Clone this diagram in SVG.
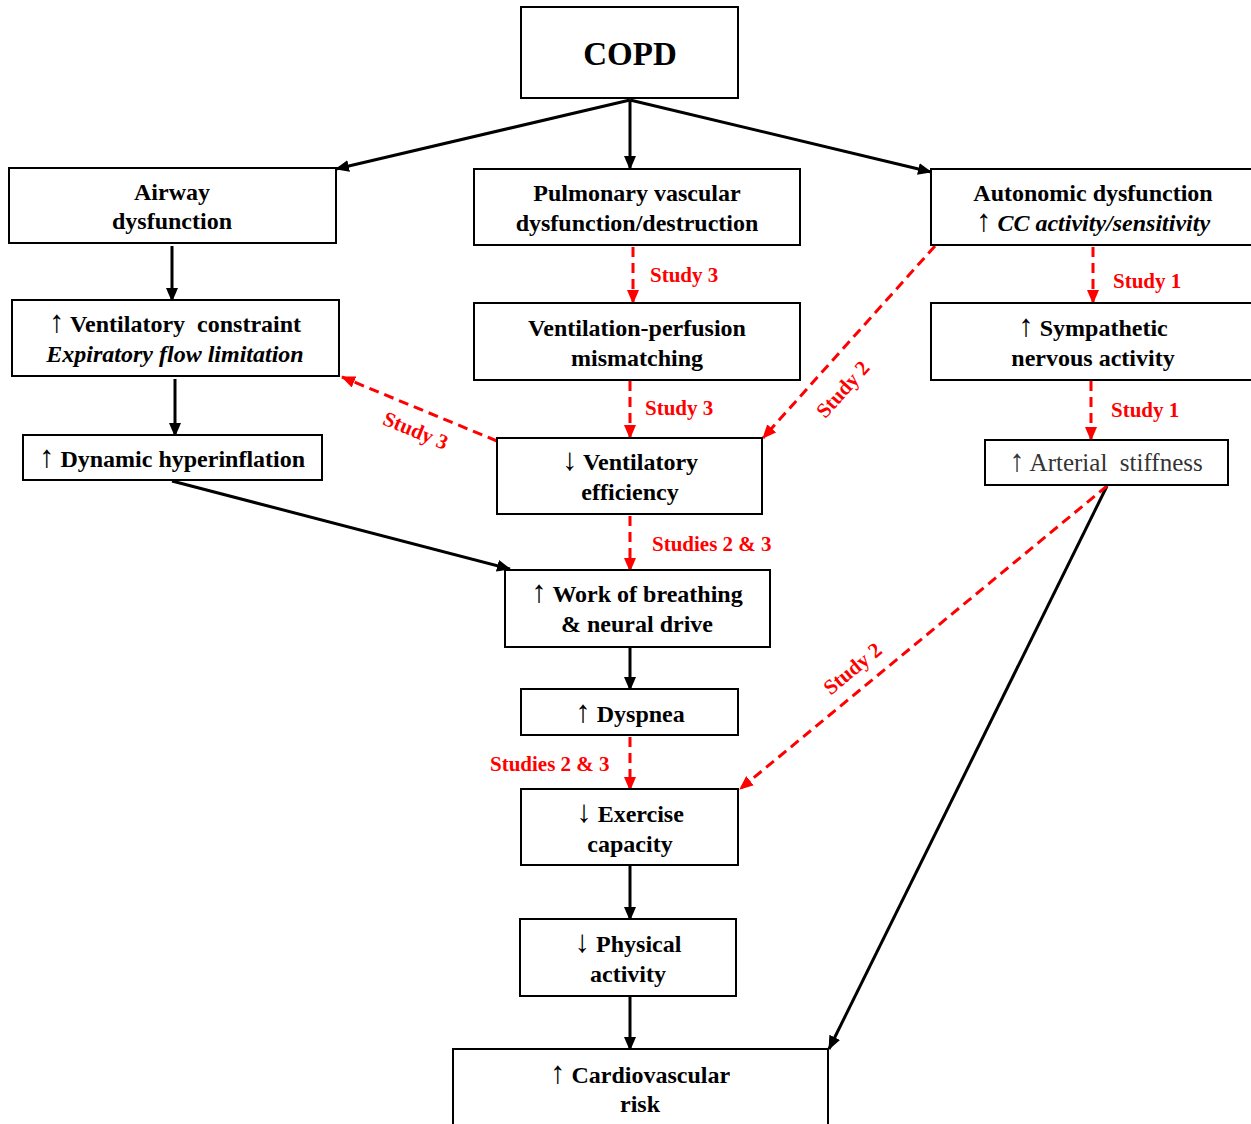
<svg xmlns="http://www.w3.org/2000/svg" width="1251" height="1124" viewBox="0 0 1251 1124">
<defs>
<style>
.box{fill:#fff;stroke:#000;stroke-width:2}
.t{font-family:"Liberation Serif","Times New Roman",serif;font-weight:bold;font-size:24px;text-anchor:middle;fill:#000}
.it{font-style:italic}
.reg{font-weight:normal;fill:#333;font-size:25px}
.ar{font-weight:bold;font-size:31px}
.lbl{font-family:"Liberation Serif","Times New Roman",serif;font-weight:bold;font-size:21px;fill:#ff0000}
.bl{stroke:#000;stroke-width:3;fill:none}
.rd{stroke:#ff0000;stroke-width:3;fill:none;stroke-dasharray:10 6}
</style>
<marker id="ab" markerUnits="userSpaceOnUse" markerWidth="14" markerHeight="12" refX="13" refY="6" orient="auto"><path d="M0,0 L14,6 L0,12 z" fill="#000"/></marker>
<marker id="ar" markerUnits="userSpaceOnUse" markerWidth="14" markerHeight="12" refX="13" refY="6" orient="auto"><path d="M0,0 L14,6 L0,12 z" fill="#ff0000"/></marker>
</defs>

<g id="connectors">
<line class="bl" x1="630" y1="100" x2="336" y2="169" marker-end="url(#ab)"/>
<line class="bl" x1="630" y1="100" x2="630" y2="169" marker-end="url(#ab)"/>
<line class="bl" x1="630" y1="100" x2="931" y2="172" marker-end="url(#ab)"/>
<line class="bl" x1="172" y1="246" x2="172" y2="301" marker-end="url(#ab)"/>
<line class="bl" x1="175" y1="379" x2="175" y2="436" marker-end="url(#ab)"/>
<line class="bl" x1="172" y1="481" x2="510" y2="569" marker-end="url(#ab)"/>
<line class="bl" x1="630" y1="648" x2="630" y2="690" marker-end="url(#ab)"/>
<line class="bl" x1="630" y1="866" x2="630" y2="920" marker-end="url(#ab)"/>
<line class="bl" x1="630" y1="997" x2="630" y2="1050" marker-end="url(#ab)"/>
<line class="bl" x1="1107" y1="486" x2="829" y2="1049" marker-end="url(#ab)"/>

<line class="rd" x1="633" y1="247" x2="633" y2="303" marker-end="url(#ar)"/>
<line class="rd" x1="630" y1="381" x2="630" y2="438" marker-end="url(#ar)"/>
<line class="rd" x1="935" y1="246" x2="763" y2="438" marker-end="url(#ar)"/>
<line class="rd" x1="497" y1="441" x2="342" y2="377" marker-end="url(#ar)"/>
<line class="rd" x1="1093" y1="247" x2="1093" y2="303" marker-end="url(#ar)"/>
<line class="rd" x1="1091" y1="381" x2="1091" y2="440" marker-end="url(#ar)"/>
<line class="rd" x1="630" y1="516" x2="630" y2="571" marker-end="url(#ar)"/>
<line class="rd" x1="630" y1="737" x2="630" y2="790" marker-end="url(#ar)"/>
<line class="rd" x1="1107" y1="486" x2="740" y2="789" marker-end="url(#ar)"/>

<text class="lbl" x="650" y="282">Study 3</text>
<text class="lbl" x="645" y="415">Study 3</text>
<text class="lbl" x="1113" y="288">Study 1</text>
<text class="lbl" x="1111" y="417">Study 1</text>
<text class="lbl" x="652" y="551">Studies 2 &amp; 3</text>
<text class="lbl" x="490" y="771">Studies 2 &amp; 3</text>
<text class="lbl" text-anchor="middle" transform="translate(848,394) rotate(-48)">Study 2</text>
<text class="lbl" text-anchor="middle" transform="translate(413,437) rotate(22.6)">Study 3</text>
<text class="lbl" text-anchor="middle" transform="translate(857,674) rotate(-39.6)">Study 2</text>
</g>

<g id="copd"><rect class="box" x="521" y="7" width="217" height="91"/><text class="t" x="630" y="65" style="font-size:33px">COPD</text></g>
<g id="airway"><rect class="box" x="9" y="168" width="327" height="75"/><text class="t" x="172" y="200">Airway</text><text class="t" x="172" y="229">dysfunction</text></g>
<g id="pulmonary"><rect class="box" x="474" y="169" width="326" height="76"/><text class="t" x="637" y="201">Pulmonary vascular</text><text class="t" x="637" y="231">dysfunction/destruction</text></g>
<g id="autonomic"><rect class="box" x="931" y="169" width="330" height="76"/><text class="t" x="1093" y="201">Autonomic dysfunction</text><text class="t" x="1093" y="231"><tspan class="ar">↑</tspan> <tspan class="it">CC activity/sensitivity</tspan></text></g>
<g id="ventconstraint"><rect class="box" x="12" y="300" width="327" height="76"/><text class="t" x="175" y="332" xml:space="preserve"><tspan class="ar">↑</tspan> Ventilatory  constraint</text><text class="t it" x="175" y="362">Expiratory flow limitation</text></g>
<g id="vq"><rect class="box" x="474" y="303" width="326" height="77"/><text class="t" x="637" y="336">Ventilation-perfusion</text><text class="t" x="637" y="366">mismatching</text></g>
<g id="sympathetic"><rect class="box" x="931" y="303" width="330" height="77"/><text class="t" x="1093" y="336"><tspan class="ar">↑</tspan> Sympathetic</text><text class="t" x="1093" y="366">nervous activity</text></g>
<g id="hyperinflation"><rect class="box" x="23" y="435" width="299" height="45"/><text class="t" x="172" y="467"><tspan class="ar">↑</tspan> Dynamic hyperinflation</text></g>
<g id="venteff"><rect class="box" x="497" y="438" width="265" height="76"/><text class="t" x="630" y="470"><tspan class="ar">↓</tspan> Ventilatory</text><text class="t" x="630" y="500">efficiency</text></g>
<g id="arterial"><rect class="box" x="985" y="440" width="243" height="45"/><text class="t reg" x="1106" y="471" xml:space="preserve"><tspan class="ar" style="font-weight:normal">↑</tspan> Arterial  stiffness</text></g>
<g id="wob"><rect class="box" x="505" y="570" width="265" height="77"/><text class="t" x="637" y="602"><tspan class="ar">↑</tspan> Work of breathing</text><text class="t" x="637" y="632">&amp; neural drive</text></g>
<g id="dyspnea"><rect class="box" x="521" y="689" width="217" height="46"/><text class="t" x="630" y="722"><tspan class="ar">↑</tspan> Dyspnea</text></g>
<g id="exercise"><rect class="box" x="521" y="789" width="217" height="76"/><text class="t" x="630" y="822"><tspan class="ar">↓</tspan> Exercise</text><text class="t" x="630" y="852">capacity</text></g>
<g id="physical"><rect class="box" x="520" y="919" width="216" height="77"/><text class="t" x="628" y="952"><tspan class="ar">↓</tspan> Physical</text><text class="t" x="628" y="982">activity</text></g>
<g id="cvrisk"><rect class="box" x="453" y="1049" width="375" height="90"/><text class="t" x="640" y="1083"><tspan class="ar">↑</tspan> Cardiovascular</text><text class="t" x="640" y="1112">risk</text></g>
</svg>
